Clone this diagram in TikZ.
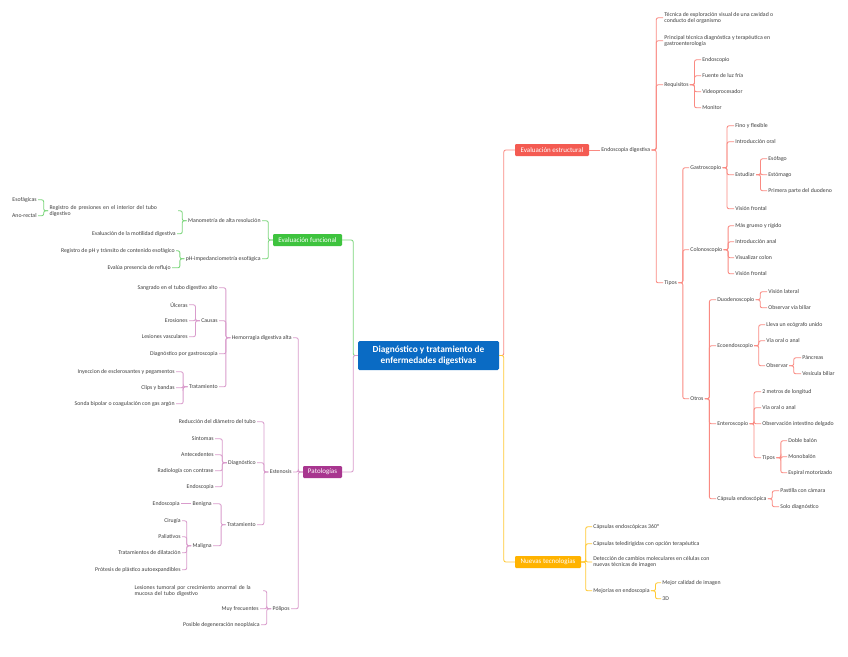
\documentclass[tikz,border=0pt]{standalone}
\usepackage{fontspec}
\setmainfont{Carlito}
\definecolor{txt}{HTML}{3F3F3F}
\definecolor{redF}{HTML}{F45B52}
\definecolor{redL}{HTML}{FA8A82}
\definecolor{grnF}{HTML}{3EC33E}
\definecolor{grnL}{HTML}{7CD67C}
\definecolor{purF}{HTML}{A8368F}
\definecolor{purL}{HTML}{D99CCC}
\definecolor{yelF}{HTML}{FFB300}
\definecolor{yelL}{HTML}{FFC933}
\definecolor{bluF}{HTML}{0A6BC4}
\newcommand\bR[3]{\draw[#1] (#2.east) -- ++(4.5,0) |- (#3.west);}
\newcommand\bL[3]{\draw[#1] (#2.west) -- ++(-4.5,0) |- (#3.east);}
\begin{document}
\begin{tikzpicture}[x=1pt,y=-1pt,
  base/.style={inner xsep=1.2pt,inner ysep=0.5pt,yshift=-0.8pt,text=txt,font=\fontsize{5.8}{6.4}\selectfont},
  R/.style={base,anchor=west},
  L/.style={base,anchor=east},
  ml/.style={align=left},
  mlw/.style={align=left,text width=127pt},
  topic/.style={rounded corners=1.2pt,text=white,font=\fontsize{7}{7.5}\selectfont,minimum height=12pt,inner xsep=3pt,inner ysep=0pt},
  lr/.style={draw=redL,line width=0.85pt,rounded corners=2pt},
  lg/.style={draw=grnL,line width=0.85pt,rounded corners=2pt},
  lp/.style={draw=purL,line width=0.85pt,rounded corners=2pt},
  ly/.style={draw=yelL,line width=0.85pt,rounded corners=2pt},
]
\useasboundingbox (0,0) rectangle (848,656);
\fill[white] (0,0) rectangle (848,656);

% center
\node[fill=bluF,rounded corners=1.5pt,minimum width=141pt,minimum height=29pt,inner sep=0pt,
  text=white,align=center,font=\bfseries\fontsize{9.3}{10.3}\selectfont] (c) at (428.5,355.5)
  {Diagnóstico y tratamiento de\\enfermedades digestivas};

% main topics
\node[topic,fill=redF,minimum width=74pt] (ee) at (552,150) {Evaluación estructural};
\node[topic,fill=yelF,minimum width=66pt] (nt) at (548,562) {Nuevas tecnologías};
\node[topic,fill=grnF,minimum width=69pt] (ef) at (307.5,240) {Evaluación funcional};
\node[topic,fill=purF,minimum width=39pt] (pat) at (322.5,472) {Patologías};

\draw[lr] (c.east) -| ([xshift=-11pt]ee.west) -- (ee.west);
\draw[ly] (c.east) -| ([xshift=-11pt]nt.west) -- (nt.west);
\draw[lg] (c.west) -| ([xshift=11pt]ef.east) -- (ef.east);
\draw[lp] (c.west) -| ([xshift=11pt]pat.east) -- (pat.east);

% ===== Evaluacion estructural =====
\node[R] (ed) at (600,149.2) {Endoscopia digestiva};
\draw[lr] (ee.east) -- (ed.west);
\node[R,ml] (tec) at (663,17) {Técnica de exploración visual de una cavidad o\\conducto del organismo};
\node[R,ml] (pri) at (663,40) {Principal técnica diagnóstica y terapéutica en\\gastroenterología};
\node[R] (req) at (663,84) {Requisitos};
\node[R] (tip) at (663,282) {Tipos};
\foreach \n in {tec,pri,req,tip} {\bR{lr}{ed}{\n}}
\node[R] (endo) at (701,59) {Endoscopio};
\node[R] (fue) at (701,75) {Fuente de luz fría};
\node[R] (vid) at (701,91) {Videoprocesador};
\node[R] (mon) at (701,107) {Monitor};
\foreach \n in {endo,fue,vid,mon} {\bR{lr}{req}{\n}}
\node[R] (gas) at (689,167) {Gastroscopio};
\node[R] (col) at (689,249) {Colonoscopio};
\node[R] (otr) at (689,398) {Otros};
\foreach \n in {gas,col,otr} {\bR{lr}{tip}{\n}}
\node[R] (fino) at (734,125) {Fino y flexible};
\node[R] (ioral) at (734,141) {Introducción oral};
\node[R] (estu) at (734,174) {Estudiar};
\node[R] (vfa) at (734,208) {Visión frontal};
\foreach \n in {fino,ioral,estu,vfa} {\bR{lr}{gas}{\n}}
\node[R] (esof) at (767,158) {Esófago};
\node[R] (esto) at (767,174) {Estómago};
\node[R] (prim) at (767,190) {Primera parte del duodeno};
\foreach \n in {esof,esto,prim} {\bR{lr}{estu}{\n}}
\node[R] (mas) at (734,225) {Más grueso y rígido};
\node[R] (ianal) at (734,241) {Introducción anal};
\node[R] (vcol) at (734,257) {Visualizar colon};
\node[R] (vfb) at (734,273) {Visión frontal};
\foreach \n in {mas,ianal,vcol,vfb} {\bR{lr}{col}{\n}}
\node[R] (duo) at (716,299) {Duodenoscopio};
\node[R] (eco) at (716,345) {Ecoendoscopio};
\node[R] (ent) at (716,423) {Enteroscopio};
\node[R] (cap) at (716,498) {Cápsula endoscópica};
\foreach \n in {duo,eco,ent,cap} {\bR{lr}{otr}{\n}}
\node[R] (vlat) at (767,291) {Visión lateral};
\node[R] (ovb) at (767,307) {Observar vía biliar};
\foreach \n in {vlat,ovb} {\bR{lr}{duo}{\n}}
\node[R] (lle) at (765,324) {Lleva un ecógrafo unido};
\node[R] (voa) at (765,340) {Vía oral o anal};
\node[R] (obs) at (765,365) {Observar};
\foreach \n in {lle,voa,obs} {\bR{lr}{eco}{\n}}
\node[R] (pan) at (801,357) {Páncreas};
\node[R] (ves) at (801,373) {Vesícula biliar};
\foreach \n in {pan,ves} {\bR{lr}{obs}{\n}}
\node[R] (dos) at (761,391) {2 metros de longitud};
\node[R] (voab) at (761,407) {Vía oral o anal};
\node[R] (obi) at (761,423) {Observación intestino delgado};
\node[R] (tipb) at (761,457) {Tipos};
\foreach \n in {dos,voab,obi,tipb} {\bR{lr}{ent}{\n}}
\node[R] (dob) at (787,440) {Doble balón};
\node[R] (mono) at (787,456) {Monobalón};
\node[R] (espi) at (787,472) {Espiral motorizado};
\foreach \n in {dob,mono,espi} {\bR{lr}{tipb}{\n}}
\node[R] (pas) at (779,490) {Pastilla con cámara};
\node[R] (sol) at (779,506) {Solo diagnóstico};
\foreach \n in {pas,sol} {\bR{lr}{cap}{\n}}

% ===== Nuevas tecnologias =====
\node[R] (c360) at (592,526) {Cápsulas endoscópicas 360°};
\node[R] (ctel) at (592,543) {Cápsulas teledirigidas con opción terapéutica};
\node[R,ml] (det) at (592,561.2) {Detección de cambios moleculares en células con\\nuevas técnicas de imagen};
\node[R] (mej) at (592,590) {Mejorías en endoscopia};
\foreach \n in {c360,ctel,det,mej} {\bR{ly}{nt}{\n}}
\node[R] (mcal) at (661,582) {Mejor calidad de imagen};
\node[R] (tdd) at (661,598) {3D};
\foreach \n in {mcal,tdd} {\bR{ly}{mej}{\n}}

% ===== Evaluacion funcional =====
\node[L] (man) at (262,220) {Manometría de alta resolución};
\node[L] (phi) at (262,258) {pH-impedanciometría esofágica};
\foreach \n in {man,phi} {\bL{lg}{ef}{\n}}
\node[L,mlw] (reg) at (178,210) {Registro de presiones en el interior del tubo\\digestivo};
\node[L] (evm) at (177,233) {Evaluación de la motilidad digestiva};
\foreach \n in {reg,evm} {\bL{lg}{man}{\n}}
\node[L] (esfa) at (38,199) {Esofágicas};
\node[L] (ano) at (38,215) {Ano-rectal};
\foreach \n in {esfa,ano} {\bL{lg}{reg}{\n}}
\node[L] (rph) at (176,250) {Registro de pH y tránsito de contenido esofágico};
\node[L] (evr) at (172,267) {Evalúa presencia de reflujo};
\foreach \n in {rph,evr} {\bL{lg}{phi}{\n}}

% ===== Patologias =====
\node[L] (hem) at (293,337) {Hemorragia digestiva alta};
\node[L] (este) at (293,471.2) {Estenosis};
\node[L] (pol) at (291,608) {Pólipos};
\foreach \n in {hem,este,pol} {\bL{lp}{pat}{\n}}
\node[L] (san) at (219,287) {Sangrado en el tubo digestivo alto};
\node[L] (cau) at (219,320) {Causas};
\node[L] (dgas) at (219,353) {Diagnóstico por gastroscopia};
\node[L] (trh) at (219,386) {Tratamiento};
\foreach \n in {san,cau,dgas,trh} {\bL{lp}{hem}{\n}}
\node[L] (ulc) at (189,304) {Úlceras};
\node[L] (ero) at (189,320) {Erosiones};
\node[L] (lva) at (189,336) {Lesiones vasculares};
\foreach \n in {ulc,ero,lva} {\bL{lp}{cau}{\n}}
\node[L] (iny) at (176,371) {Inyeccion de esclerosantes y pegamentos};
\node[L] (cli) at (176,387) {Clips y bandas};
\node[L] (son) at (176,403) {Sonda bipolar o coagulación con gas argón};
\foreach \n in {iny,cli,son} {\bL{lp}{trh}{\n}}
\node[L] (red) at (257,421) {Reducción del diámetro del tubo};
\node[L] (dia) at (257,462) {Diagnóstico};
\node[L] (tre) at (257,524) {Tratamiento};
\foreach \n in {red,dia,tre} {\bL{lp}{este}{\n}}
\node[L] (sin) at (215,438) {Síntomas};
\node[L] (ant) at (215,454) {Antecedentes};
\node[L] (rad) at (215,470) {Radiología con contrase};
\node[L] (endb) at (215,486) {Endoscopia};
\foreach \n in {sin,ant,rad,endb} {\bL{lp}{dia}{\n}}
\node[L] (ben) at (213,503) {Benigna};
\node[L] (mal) at (213,545) {Maligna};
\foreach \n in {ben,mal} {\bL{lp}{tre}{\n}}
\node[L] (endc) at (181,503) {Endoscopia};
\draw[lp] (ben.west) -- (endc.east);
\node[L] (cir) at (182,520) {Cirugía};
\node[L] (pal) at (182,536) {Paliativos};
\node[L] (trd) at (182,552) {Tratamientos de dilatación};
\node[L] (pro) at (182,569) {Prótesis de plástico autoexpandibles};
\foreach \n in {cir,pal,trd,pro} {\bL{lp}{mal}{\n}}
\node[L,mlw] (les) at (263,590) {Lesiones tumoral por crecimiento anormal de la\\mucosa del tubo digestivo};
\node[L] (muy) at (260,608) {Muy frecuentes};
\node[L] (posi) at (261,624) {Posible degeneración neoplásica};
\foreach \n in {les,muy,posi} {\bL{lp}{pol}{\n}}
\end{tikzpicture}
\end{document}
